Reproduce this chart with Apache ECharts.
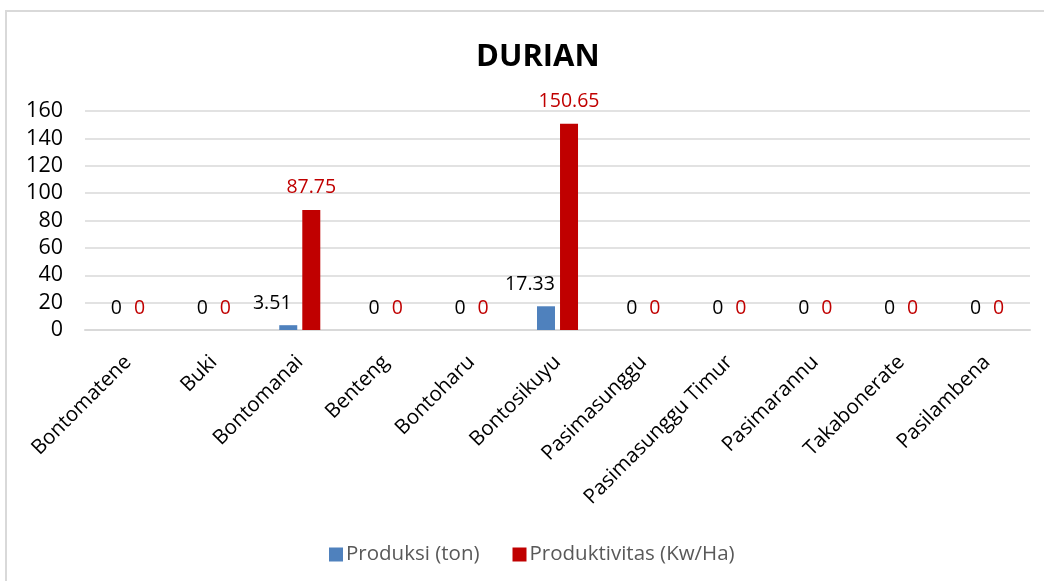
<!doctype html>
<meta charset="utf-8">
<title>DURIAN</title>
<style>
	html, body { margin: 0; padding: 0; background: #fff; }
	#chart { width: 1044px; height: 581px; }
</style>
<div id="chart"></div>
<script src="https://cdn.jsdelivr.net/npm/echarts@6/dist/echarts.min.js"></script>
<script>
	var categories = ["Bontomatene", "Buki", "Bontomanai", "Benteng", "Bontoharu", "Bontosikuyu",
		"Pasimasunggu", "Pasimasunggu Timur", "Pasimarannu", "Takabonerate", "Pasilambena"];
	var produksi = [0, 0, 3.51, 0, 0, 17.33, 0, 0, 0, 0, 0];
	var produktivitas = [0, 0, 87.75, 0, 0, 150.65, 0, 0, 0, 0, 0];
	var yTicks = { min: 0, max: 160, interval: 20 };

	var font = "'Open Sans', 'Noto Sans', sans-serif";
	// Excel nudges non-zero blue labels to the left so they clear the red bar
	var produksiData = produksi.map(function (v) {
		return { value: v, label: { offset: [v > 0 ? -16 : 0, 0] } };
	});
	var chart = echarts.init(document.getElementById('chart'));
	chart.setOption({
		animation: false,
		textStyle: { fontFamily: font },
		graphic: [{
			type: 'rect',
			shape: { x: 6, y: 11, width: 1100, height: 700 },
			style: { fill: 'none', stroke: '#d9d9d9', lineWidth: 2 },
			silent: true
		}],
		title: {
			text: 'DURIAN',
			left: 471,
			top: 37,
			textStyle: { fontFamily: font, fontSize: 31, fontWeight: 'bold', color: '#000' }
		},
		legend: {
			left: 324,
			top: 539,
			itemWidth: 14,
			itemHeight: 14,
			itemGap: 33,
			textStyle: { fontFamily: font, fontSize: 20.5, color: '#595959', padding: [0, 0, 0, -2] },
			data: [
				{ name: 'Produksi (ton)', icon: 'rect' },
				{ name: 'Produktivitas (Kw/Ha)', icon: 'rect' }
			]
		},
		grid: { left: 85, right: 14, top: 111, bottom: 251 },
		xAxis: {
			type: 'category',
			data: categories,
			axisLine: { lineStyle: { color: '#d9d9d9', width: 2 } },
			axisTick: { show: false },
			axisLabel: { rotate: 45, interval: 0, margin: 29, fontFamily: font, fontSize: 20.5, color: '#000' }
		},
		yAxis: {
			type: 'value',
			min: yTicks.min,
			max: yTicks.max,
			interval: yTicks.interval,
			axisLine: { show: false },
			axisTick: { show: false },
			splitLine: { lineStyle: { color: '#d9d9d9', width: 1.5 } },
			axisLabel: { margin: 22, fontFamily: font, fontSize: 21.5, color: '#000' }
		},
		series: [{
			name: 'Produksi (ton)',
			type: 'bar',
			data: produksiData,
			barWidth: 18,
			barGap: '28%',
			itemStyle: { color: '#4F81BD' },
			label: { show: true, position: 'top', distance: 12, fontFamily: font, fontSize: 19.5, color: '#000' }
		}, {
			name: 'Produktivitas (Kw/Ha)',
			type: 'bar',
			data: produktivitas,
			barWidth: 18,
			itemStyle: { color: '#C00000' },
			label: { show: true, position: 'top', distance: 12, fontFamily: font, fontSize: 19.5, color: '#C00000' }
		}]
	});
</script>
